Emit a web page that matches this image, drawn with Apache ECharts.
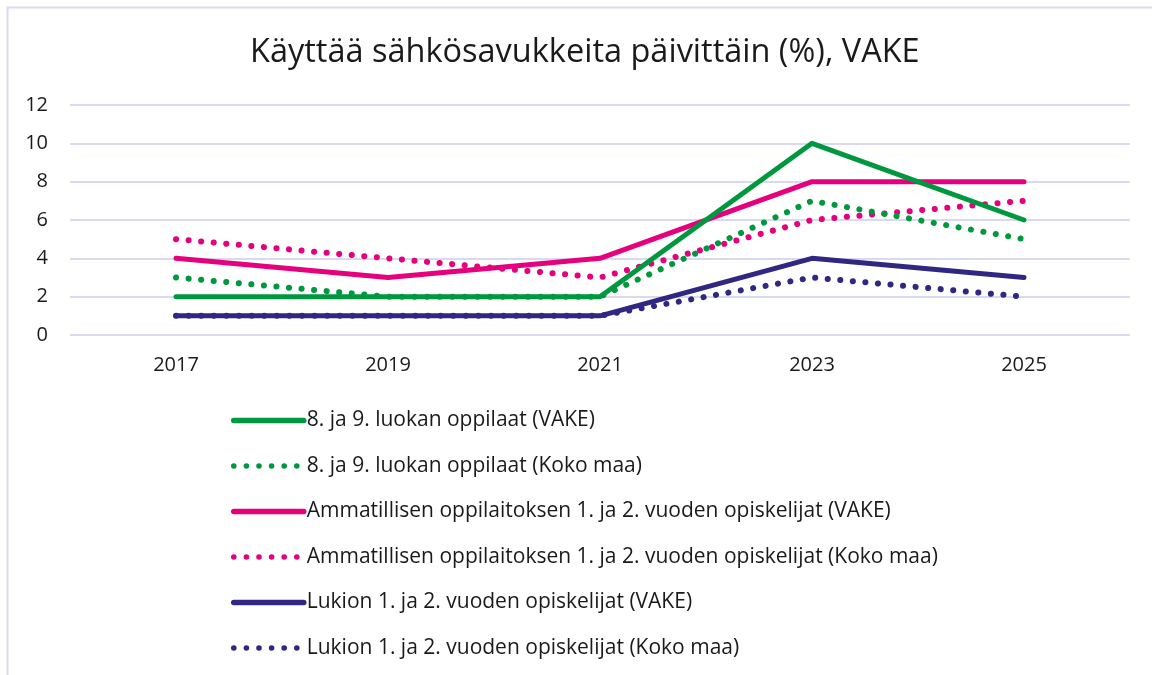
<!DOCTYPE html>
<html><head><meta charset="utf-8">
<script src="https://cdn.jsdelivr.net/npm/echarts@6/dist/echarts.min.js"></script>
<style>html,body{margin:0;padding:0;background:#fff}#c{width:1152px;height:675px}</style>
</head><body><div id="c"></div>
<script>
const years = ['2017','2019','2021','2023','2025'];
const yTicks = [0,2,4,6,8,10,12];
const names = [
  '8. ja 9. luokan oppilaat (VAKE)',
  '8. ja 9. luokan oppilaat (Koko maa)',
  'Ammatillisen oppilaitoksen 1. ja 2. vuoden opiskelijat (VAKE)',
  'Ammatillisen oppilaitoksen 1. ja 2. vuoden opiskelijat (Koko maa)',
  'Lukion 1. ja 2. vuoden opiskelijat (VAKE)',
  'Lukion 1. ja 2. vuoden opiskelijat (Koko maa)'
];
const peruskouluVake = [2,2,2,10,6];
const peruskouluKoko = [3,2,2,7,5];
const ammatillinenVake = [4,3,4,8,8];
const ammatillinenKoko = [5,4,3,6,7];
const lukioVake = [1,1,1,4,3];
const lukioKoko = [1,1,1,3,2];
const seriesData = [peruskouluVake, peruskouluKoko, ammatillinenVake, ammatillinenKoko, lukioVake, lukioKoko];
const colors = ['#00983f','#00983f','#e5007d','#e5007d','#302783','#302783'];
const FONT = 'Open Sans';

const chart = echarts.init(document.getElementById('c'));
chart.setOption({
  animation: false,
  backgroundColor: '#ffffff',
  textStyle: {fontFamily: FONT},
  graphic: [{
    type: 'rect', shape: {x: 7.5, y: 7.5, width: 1170, height: 700},
    style: {fill: 'none', stroke: '#d9d9f0', lineWidth: 2}, silent: true
  }],
  title: {
    text: 'Käyttää sähkösavukkeita päivittäin (%), VAKE',
    left: 245, top: 31,
    textStyle: {fontFamily: FONT, fontSize: 32.5, fontWeight: 'normal', color: '#1a1a1a'}
  },
  grid: {left: 70, right: 22, top: 105, height: 230, containLabel: false},
  xAxis: {
    type: 'category', data: years, boundaryGap: true,
    axisLine: {show: false}, axisTick: {show: false},
    axisLabel: {fontFamily: FONT, fontSize: 20, color: '#1a1a1a', margin: 20}
  },
  yAxis: {
    type: 'value', min: yTicks[0], max: yTicks[yTicks.length-1], interval: 2,
    axisLine: {show: false}, axisTick: {show: false},
    axisLabel: {fontFamily: FONT, fontSize: 20, color: '#1a1a1a', margin: 22},
    splitLine: {lineStyle: {color: '#d9d9f2', width: 2}}
  },
  legend: {
    orient: 'vertical', left: 226, top: 405,
    itemWidth: 70, itemHeight: 20, itemGap: 24.5,
    itemStyle: {opacity: 0},
    lineStyle: {width: 5.5},
    textStyle: {fontFamily: FONT, fontSize: 21, color: '#1a1a1a', padding: [0,0,0,-2]},
    data: names
  },
  series: names.map((n, i) => ({
    name: n, type: 'line', data: seriesData[i],
    symbol: 'none', smooth: false,
    color: colors[i],
    lineStyle: i % 2 === 0
      ? {color: colors[i], width: 5, cap: 'round', join: 'round'}
      : {color: colors[i], width: 6, type: [0.1, 12.5], cap: 'round'},
    z: 10 - i
  }))
});
</script></body></html>
